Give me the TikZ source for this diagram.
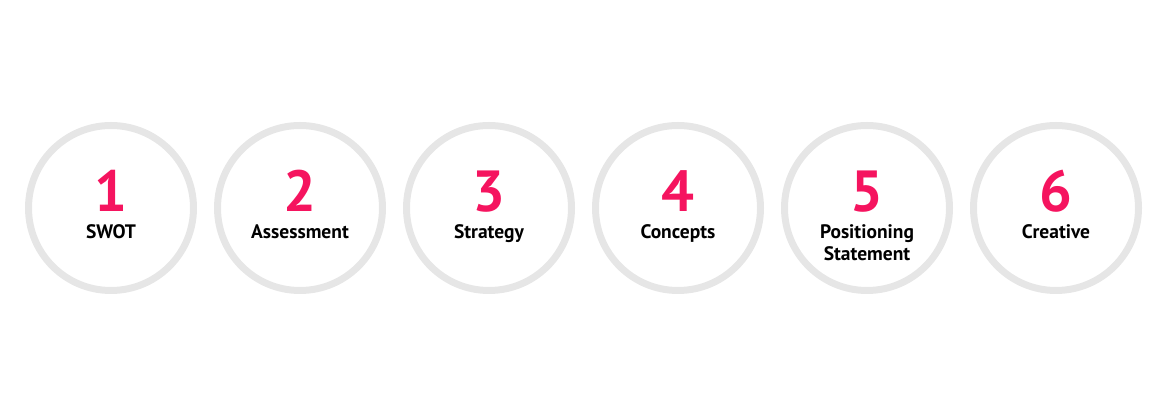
\documentclass[tikz,border=0pt]{standalone}
\usepackage{fontspec}
\setmainfont{PT Sans}
\usetikzlibrary{positioning}
\definecolor{ringgray}{HTML}{E6E6E6}
\definecolor{steppink}{HTML}{F5145F}

\begin{document}
\begin{tikzpicture}[x=1pt, y=1pt, node distance=189pt]
    \tikzstyle{ring}=[circle, draw=ringgray, line width=7pt, minimum size=165pt, inner sep=0pt]
    \tikzstyle{num}=[anchor=base, inner sep=0pt, text=steppink, font=\fontsize{58}{58}\selectfont\bfseries]
    \tikzstyle{caption}=[anchor=base, inner sep=0pt, align=center, font=\fontsize{19.5}{22}\selectfont\bfseries]

    \useasboundingbox (0,0) rectangle (1170,417);

    % Rings
    \node[ring] (c1) at (111,209) {};
    \node[ring] (c2) [right of=c1] {};
    \node[ring] (c3) [right of=c2] {};
    \node[ring] (c4) [right of=c3] {};
    \node[ring] (c5) [right of=c4] {};
    \node[ring] (c6) [right of=c5] {};

    % Step numbers
    \node[num] (n1) at ([yshift=-4pt]c1.center) {1};
    \node[num] (n2) at ([yshift=-4pt]c2.center) {2};
    \node[num] (n3) at ([yshift=-4pt]c3.center) {3};
    \node[num] (n4) at ([yshift=-4pt]c4.center) {4};
    \node[num] (n5) at ([yshift=-4pt]c5.center) {5};
    \node[num] (n6) at ([yshift=-4pt]c6.center) {6};

    % Step names
    \node[caption] (t1) at ([yshift=-31pt]c1.center) {SWOT};
    \node[caption] (t2) at ([yshift=-31pt]c2.center) {Assessment};
    \node[caption] (t3) at ([yshift=-31pt]c3.center) {Strategy};
    \node[caption] (t4) at ([yshift=-31pt]c4.center) {Concepts};
    \node[caption, anchor=north] (t5) at ([yshift=-16pt]c5.center) {Positioning\\Statement};
    \node[caption] (t6) at ([yshift=-31pt]c6.center) {Creative};
\end{tikzpicture}
\end{document}
